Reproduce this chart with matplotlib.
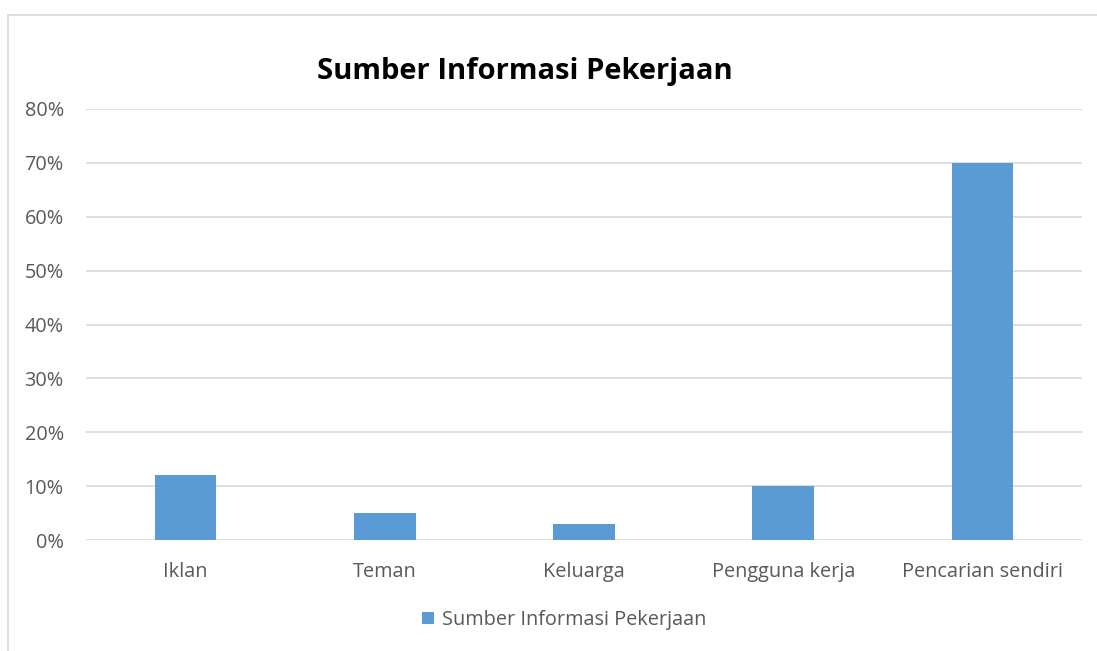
import matplotlib
matplotlib.use("Agg")
import matplotlib.pyplot as plt
from matplotlib.lines import Line2D
from matplotlib.patches import Patch
from matplotlib.ticker import FuncFormatter, MultipleLocator

categories = ["Iklan", "Teman", "Keluarga", "Pengguna kerja", "Pencarian sendiri"]
values = [0.12, 0.05, 0.03, 0.10, 0.70]
series_name = "Sumber Informasi Pekerjaan"
title = "Sumber Informasi Pekerjaan"

plt.rcParams['font.family'] = ['Open Sans', 'DejaVu Sans']

W, H = 1097, 651
fig = plt.figure(figsize=(W / 100, H / 100), dpi=100)
fig.patch.set_facecolor("white")

# chart border (top and left visible)
border_c = "#D9D9D9"
fig.add_artist(Line2D([8 / W, 1.0], [1 - 15 / H, 1 - 15 / H], color=border_c, lw=1.2, transform=fig.transFigure))
fig.add_artist(Line2D([8 / W, 8 / W], [0.0, 1 - 15 / H], color=border_c, lw=1.2, transform=fig.transFigure))

left, right = 86 / W, 1082 / W
bottom, top = 1 - 540 / H, 1 - 109 / H
ax = fig.add_axes([left, bottom, right - left, top - bottom])

x = list(range(len(categories)))
bar_color = "#5B9BD5"
ax.bar(x, values, width=0.31, color=bar_color, zorder=3, label=series_name)

ax.set_xlim(-0.5, len(categories) - 0.5)
ax.set_ylim(0, 0.8)
ax.yaxis.set_major_locator(MultipleLocator(0.1))
ax.yaxis.set_major_formatter(FuncFormatter(lambda v, p: f"{v * 100:.0f}%"))
ax.grid(axis="y", color="#D9D9D9", lw=1.2, zorder=0)
ax.set_axisbelow(True)
for s in ax.spines.values():
    s.set_visible(False)
ax.tick_params(axis="both", length=0, colors="#595959", labelsize=14.3)
ax.tick_params(axis="y", pad=16)
ax.tick_params(axis="x", pad=16)
ax.set_xticks(x)
ax.set_xticklabels(categories)

fig.text(525 / W, 1 - 71 / H, title, ha="center", va="center", fontsize=21, fontweight="bold", color="black")

handles = [Patch(facecolor=bar_color, edgecolor="none", label=series_name)]
fig.legend(handles=handles, loc="center", bbox_to_anchor=(564 / W, 1 - 620 / H), frameon=False,
           fontsize=14.3, labelcolor="#595959", handlelength=0.6, handleheight=0.6, handletextpad=0.4)

fig.savefig("out.png", dpi=100, facecolor="white")
